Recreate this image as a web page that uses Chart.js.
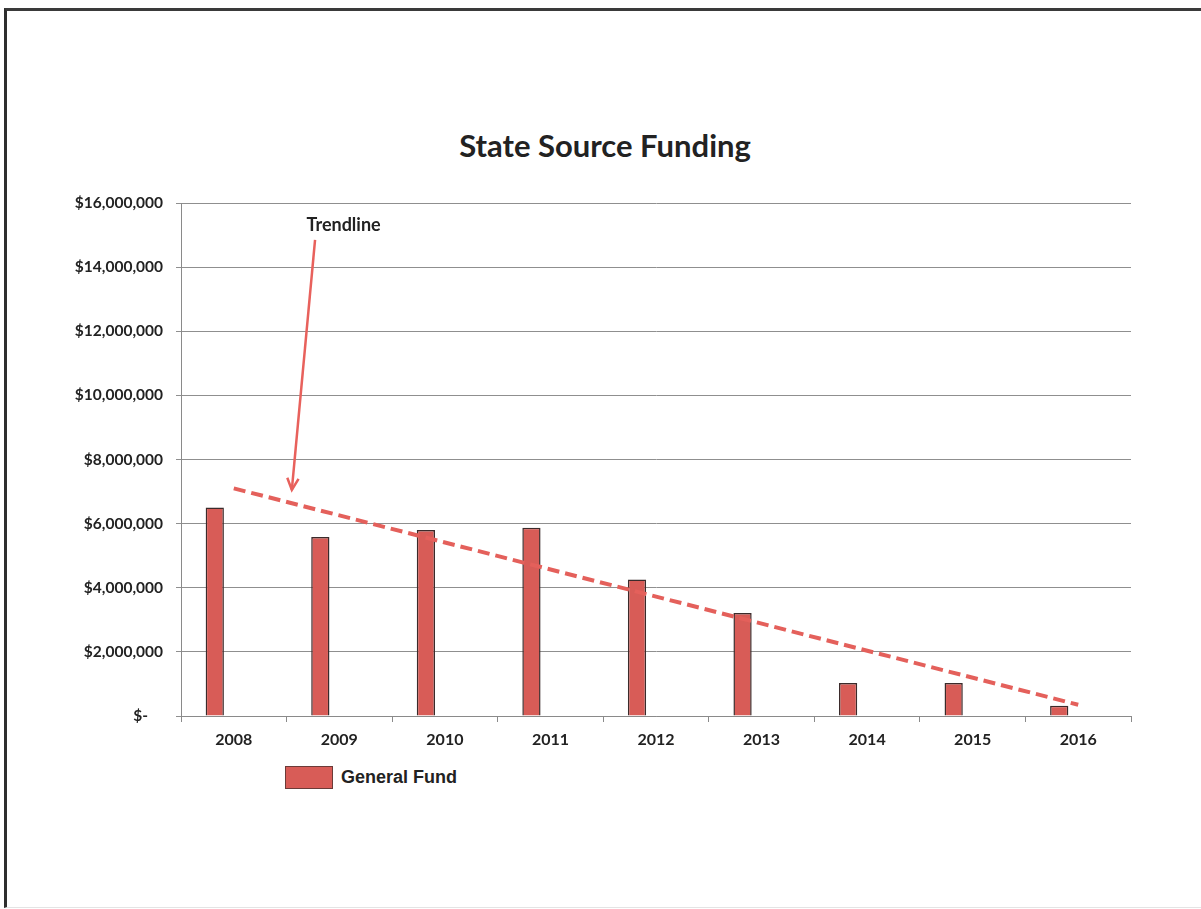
<!DOCTYPE html>
<html>
<head>
<meta charset="utf-8">
<script src="https://cdn.jsdelivr.net/npm/chart.js@4.4.1/dist/chart.umd.min.js"></script>
<style>
  html, body { margin: 0; padding: 0; background: #fff; }
  body { width: 1201px; height: 909px; position: relative; overflow: hidden; }
  .frame { position: absolute; left: 4px; top: 8px; width: 1210px; height: 896px;
           border-top: 3px solid #3a3a3a; border-left: 3px solid #2e2e2e; border-bottom: 1px solid #e4e4e4; }
  .title { position: absolute; left: 0; top: 126px; width: 1210px; text-align: center;
           font: bold 31px Lato, "Open Sans", sans-serif; color: #222; line-height: 38px; }
  .box { position: absolute; left: 0; top: 0; width: 1201px; height: 757px; }
  .legend { position: absolute; left: 285px; top: 766px; font: bold 18px "Liberation Sans", Arial, sans-serif;
            color: #222; display: flex; align-items: center; }
  .legend span { display: inline-block; width: 46px; height: 21px; background: #d85c57;
                 border: 1px solid #6b3b38; margin-right: 8px; }
</style>
</head>
<body>
<div class="frame"></div>
<div class="title">State Source Funding</div>
<div class="box"><canvas id="stateChart"></canvas></div>
<div class="legend"><span></span>General Fund</div>
<script>
// values
const years = ['2008', '2009', '2010', '2011', '2012', '2013', '2014', '2015', '2016'];
const generalFund = [6500000, 5580000, 5800000, 5870000, 4260000, 3210000, 1030000, 1030000, 320000];
const trendStart = 7100000;   // trendline value at 2008
const trendEnd = 350000;      // trendline value at 2016
const yTicks = [0, 2000000, 4000000, 6000000, 8000000, 10000000, 12000000, 14000000, 16000000];

const calibri = 'Lato, "Open Sans", sans-serif';

// draws the "Trendline" note and its arrow
const trendNote = {
  id: 'trendNote',
  afterDatasetsDraw(chart) {
    const ctx = chart.ctx, x = chart.scales.x, y = chart.scales.y;
    const step = x.width / years.length;
    const tipX = x.getPixelForValue(0) + 0.55 * step, tipY = y.getPixelForValue(7050000);
    const tailX = x.getPixelForValue(0) + 0.77 * step, tailY = y.getPixelForValue(14850000);
    ctx.save();
    ctx.strokeStyle = '#e8615c';
    ctx.lineWidth = 2.5;
    ctx.beginPath();
    ctx.moveTo(tailX, tailY);
    ctx.lineTo(tipX, tipY);
    ctx.stroke();
    const ang = Math.atan2(tipY - tailY, tipX - tailX);
    ctx.beginPath();
    ctx.moveTo(tipX - 13 * Math.cos(ang - 0.45), tipY - 13 * Math.sin(ang - 0.45));
    ctx.lineTo(tipX, tipY);
    ctx.lineTo(tipX - 13 * Math.cos(ang + 0.45), tipY - 13 * Math.sin(ang + 0.45));
    ctx.stroke();
    ctx.fillStyle = '#222';
    ctx.font = 'bold 18px ' + calibri;
    ctx.textAlign = 'center';
    ctx.textBaseline = 'middle';
    ctx.fillText('Trendline', x.getPixelForValue(0) + 1.04 * step, y.getPixelForValue(15300000));
    ctx.restore();
  }
};

new Chart(document.getElementById('stateChart'), {
  data: {
    labels: years,
    datasets: [
      {
        type: 'bar',
        label: 'General Fund',
        data: generalFund,
        backgroundColor: '#d85c57',
        borderColor: '#3b2b2b',
        borderWidth: 1.5,
        categoryPercentage: 0.54,
        barPercentage: 0.96,
        order: 2
      },
      // empty series that keep the Excel-style slot spacing
      { type: 'bar', label: '', data: [], categoryPercentage: 0.54, barPercentage: 0.96, order: 3 },
      { type: 'bar', label: '', data: [], categoryPercentage: 0.54, barPercentage: 0.96, order: 4 },
      {
        type: 'line',
        label: 'Trendline',
        data: [{ x: years[0], y: trendStart }, { x: years[years.length - 1], y: trendEnd }],
        borderColor: '#e4605b',
        borderWidth: 4,
        borderDash: [12, 6],
        pointRadius: 0,
        fill: false,
        order: 1
      }
    ]
  },
  options: {
    responsive: true,
    maintainAspectRatio: false,
    animation: false,
    layout: { padding: { left: 0, right: 70, top: 203, bottom: 0 } },
    plugins: {
      legend: { display: false },
      tooltip: { enabled: false },
      title: { display: false }
    },
    scales: {
      x: {
        afterFit: s => { s.height = 41; },
        grid: { offset: true, drawOnChartArea: false, color: '#8a8a8a', tickLength: 6 },
        border: { color: '#8a8a8a' },
        ticks: { color: '#222', padding: 8, font: { family: calibri, size: 16, weight: 'bold' } }
      },
      y: {
        min: 0,
        max: 16000000,
        afterFit: s => { s.width = 181; },
        afterBuildTicks: s => { s.ticks = yTicks.map(v => ({ value: v })); },
        grid: { color: '#8f8f8f', tickLength: 5 },
        border: { color: '#8a8a8a' },
        ticks: {
          color: '#222',
          padding: 13,
          font: { family: calibri, size: 15.5, weight: 'bold' },
          callback: v => v === 0 ? '$-    ' : '$' + v.toLocaleString('en-US')
        }
      }
    }
  },
  plugins: [trendNote]
});
</script>
</body>
</html>
